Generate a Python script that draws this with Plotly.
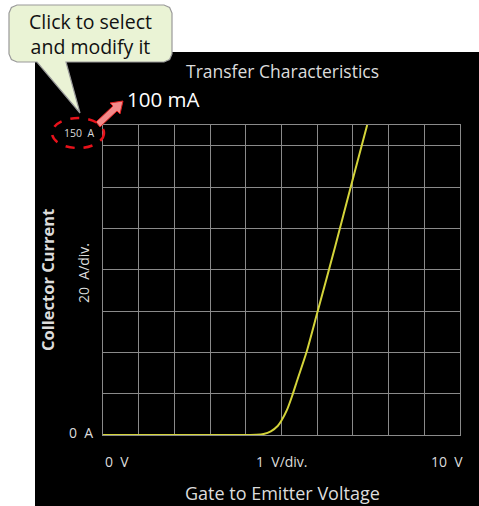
import plotly.graph_objects as go

# Transfer characteristic: collector current vs gate-emitter voltage
vge_volts = [0, 1, 2, 3, 4.0, 4.3, 4.5, 4.7, 4.9, 5.0, 5.15, 5.3, 5.45, 5.7, 6.0, 6.5, 7.0, 7.4]
ic_amps = [0, 0, 0, 0, 0, 0.1, 0.5, 1.8, 4.5, 7, 12, 19, 27, 40, 59, 91, 124, 150]

x_range = [0, 10]   # 1 V/div.
y_range = [0, 150]  # 20 A/div.

W, H = 479, 506
L, R, T, B = 103, 19, 125, 71
PW, PH = W - L - R, H - T - B


def px(x):
    return (x - L) / PW


def py(y):
    return (H - B - y) / PH


def path(points, close=True):
    s = "M " + " L ".join(f"{px(x):.5f},{py(y):.5f}" for x, y in points)
    return s + (" Z" if close else "")


fig = go.Figure()
fig.add_trace(go.Scatter(
    x=vge_volts, y=ic_amps, mode="lines",
    line=dict(color="#d4d43a", width=2, shape="spline", smoothing=0.6),
    hoverinfo="skip", showlegend=False,
))

grid = "#8a8a8a"
axis_common = dict(showticklabels=False, ticks="", zeroline=False, gridcolor=grid,
                   gridwidth=1, showline=True, mirror=True, linecolor=grid, linewidth=1,
                   fixedrange=True)
fig.update_xaxes(range=x_range, dtick=1, tick0=0, **axis_common)
fig.update_yaxes(range=y_range, dtick=20, tick0=0, **axis_common)

shapes = []
# dark instrument panel
shapes.append(dict(type="rect", xref="paper", yref="paper", layer="below",
                   x0=px(35), x1=px(W), y0=py(52), y1=py(H),
                   fillcolor="#000000", line=dict(width=0)))

# callout bubble with tail
r = 8
x0, x1, y0, y1 = 9, 172, 5, 62
bubble = [(x0 + r, y0), (x1 - r, y0), (x1 - r * 0.3, y0 + r * 0.3), (x1, y0 + r),
          (x1, y1 - r), (x1 - r * 0.3, y1 - r * 0.3), (x1 - r, y1),
          (66, y1), (80, 113), (37, y1),
          (x0 + r, y1), (x0 + r * 0.3, y1 - r * 0.3), (x0, y1 - r),
          (x0, y0 + r), (x0 + r * 0.3, y0 + r * 0.3)]
shapes.append(dict(type="path", xref="paper", yref="paper", path=path(bubble),
                   fillcolor="#eaf3d5", line=dict(color="#9a9a9a", width=1.2)))

# dashed ellipse around the full-scale label
shapes.append(dict(type="circle", xref="paper", yref="paper",
                   x0=px(52), x1=px(104), y0=py(118), y1=py(148),
                   line=dict(color="#e8121b", width=2.5, dash="dash")))

# arrow pointing to the new value
arrow = [(96, 122), (113, 106), (110, 103), (123, 101), (120, 114), (117, 111), (100, 127)]
shapes.append(dict(type="path", xref="paper", yref="paper", path=path(arrow),
                   fillcolor="#f48a8a", line=dict(color="#e02020", width=1)))

ann = []
txt = "#dcdcdc"
font = "Open Sans"
sp = "\u00a0\u00a0"


def label(x, y, text, size, color=txt, angle=0, xanchor="center"):
    ann.append(dict(x=px(x), y=py(y), xref="paper", yref="paper", text=text,
                    showarrow=False, xanchor=xanchor, yanchor="middle", textangle=angle,
                    font=dict(family=font, size=size, color=color)))


label(282, 71, "Transfer Characteristics", 17.5)
label(282, 493, "Gate to Emitter Voltage", 18)
label(47, 280, "<b>Collector Current</b>", 16.5, angle=-90)
label(83, 273, "20" + sp + "A/div.", 14, angle=-90)
label(81, 432, "0" + sp + "A", 14)
label(79, 133, "150" + sp + "A", 10.5)
label(117, 461, "0" + sp + "V", 14)
label(282, 461, "1" + sp + "V/div.", 14)
label(447, 461, "10" + sp + "V", 14)
label(163, 99, "100 mA", 20.5, color="#ffffff")
label(90, 34, "Click to select<br>and modify it", 19.5, color="#111111")

fig.update_layout(
    width=W, height=H,
    margin=dict(l=L, r=R, t=T, b=B, pad=0),
    paper_bgcolor="#ffffff", plot_bgcolor="#000000",
    shapes=shapes, annotations=ann, showlegend=False,
)

fig.write_html("out.html", config={"displayModeBar": False})
